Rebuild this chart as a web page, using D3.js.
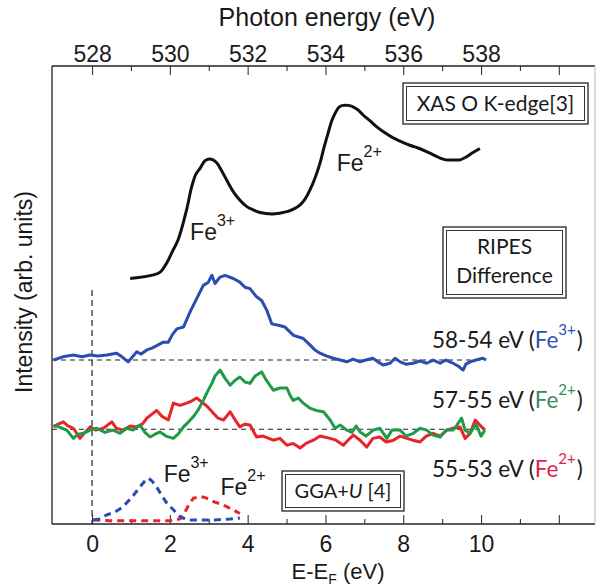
<!DOCTYPE html>
<html>
<head>
<meta charset="utf-8">
<script src="https://cdn.jsdelivr.net/npm/d3@7"></script>
<style>
  body { margin: 0; background: #fff; }
  svg text { fill: #1a1a1a; }
</style>
</head>
<body>
<svg id="chart" width="597" height="588"></svg>
<script>
// ---- XAS O K-edge spectrum (photon energy, eV) ----
const xasEnergy = [528.98, 529.58, 529.75, 529.92, 530.06, 530.21, 530.43, 530.56, 530.67, 530.78,
  530.90, 531.01, 531.11, 531.21, 531.32, 531.46, 531.57, 531.72, 531.98, 532.14, 532.32, 532.65,
  533.01, 533.19, 533.35, 533.48, 533.60, 533.73, 533.86, 533.96, 534.07, 534.17, 534.25, 534.35,
  534.45, 534.58, 534.71, 534.84, 534.97, 535.15, 535.32, 535.53, 535.74, 535.92, 536.17, 536.38,
  536.60, 536.77, 536.95, 537.10, 537.28, 537.46, 537.63, 537.77, 537.97];
const xasIntensity = [5.36, 5.44, 5.50, 5.70, 5.94, 6.20, 6.86, 7.36, 7.64, 7.77,
  7.93, 7.97, 7.95, 7.88, 7.73, 7.51, 7.34, 7.15, 6.93, 6.86, 6.80, 6.77,
  6.82, 6.88, 6.97, 7.10, 7.29, 7.55, 7.88, 8.21, 8.54, 8.82, 8.97, 9.10,
  9.14, 9.14, 9.11, 9.04, 8.93, 8.80, 8.67, 8.54, 8.43, 8.36, 8.27, 8.21,
  8.13, 8.06, 7.99, 7.95, 7.95, 7.95, 8.02, 8.10, 8.20];

// ---- RIPES difference spectra (E - E_F, eV) ----
const fe3Offset = 3.58;   // 58-54 eV trace baseline
const fe2Offset = 2.07;   // 57-55 / 55-53 eV traces baseline

const fe3Energy = [-0.99, -0.75, -0.48, -0.26, -0.05, 0.15, 0.38, 0.63, 0.77, 0.93, 1.15, 1.26, 1.41,
  1.54, 1.70, 1.83, 1.96, 2.06, 2.18, 2.35, 2.52, 2.69, 2.86, 2.99, 3.08, 3.16, 3.29, 3.42, 3.63,
  3.80, 3.93, 4.06, 4.23, 4.36, 4.49, 4.62, 4.79, 4.96, 5.18, 5.43, 5.60, 5.73, 5.86, 6.02, 6.20,
  6.38, 6.55, 6.71, 6.89, 7.04, 7.22, 7.35, 7.48, 7.66, 7.79, 7.92, 8.07, 8.25, 8.43, 8.60, 8.77,
  8.95, 9.10, 9.28, 9.41, 9.54, 9.61, 9.72, 9.87, 10.05, 10.13];
const fe3Diff = [0.00, 0.07, 0.11, 0.07, 0.11, 0.09, 0.11, 0.15, 0.07, -0.04, 0.18, 0.13, 0.22,
  0.26, 0.33, 0.39, 0.39, 0.55, 0.68, 0.72, 1.05, 1.34, 1.63, 1.70, 1.85, 1.67, 1.81, 1.85, 1.78,
  1.70, 1.59, 1.56, 1.38, 1.30, 1.09, 0.79, 0.76, 0.72, 0.54, 0.47, 0.33, 0.22, 0.15, 0.09, 0.04,
  0.00, -0.04, 0.02, -0.04, 0.00, 0.04, -0.04, -0.11, -0.07, 0.04, -0.04, -0.09, -0.07, -0.02, -0.07, 0.00,
  -0.07, 0.00, -0.07, -0.13, -0.22, -0.09, -0.04, 0.00, 0.04, 0.00];

const fe2GreenEnergy = [-0.99, -0.82, -0.65, -0.48, -0.36, -0.22, -0.05, 0.12, 0.33, 0.54, 0.72, 0.89,
  1.05, 1.23, 1.36, 1.49, 1.62, 1.75, 1.90, 2.09, 2.21, 2.35, 2.47, 2.60, 2.72, 2.86, 2.96, 3.08,
  3.16, 3.29, 3.42, 3.55, 3.68, 3.80, 3.93, 4.06, 4.19, 4.36, 4.48, 4.66, 4.83, 5.01, 5.09, 5.17,
  5.30, 5.43, 5.60, 5.76, 5.95, 6.12, 6.25, 6.38, 6.55, 6.68, 6.79, 6.89, 7.04, 7.23, 7.40, 7.58,
  7.71, 7.92, 8.07, 8.26, 8.43, 8.60, 8.77, 8.95, 9.10, 9.28, 9.38, 9.50, 9.59, 9.72, 9.87, 10.00, 10.10];
const fe2GreenDiff = [0.09, 0.04, -0.02, -0.20, -0.11, -0.09, -0.02, 0.02, -0.07, -0.02, -0.09, 0.02,
  -0.02, 0.09, -0.07, -0.17, -0.11, -0.06, -0.15, -0.20, -0.11, 0.05, 0.15, 0.27, 0.41, 0.63, 0.81, 1.00,
  1.16, 1.29, 1.11, 0.96, 1.07, 1.14, 1.03, 1.00, 1.16, 1.25, 1.07, 0.85, 0.90, 0.90, 0.74, 0.63,
  0.68, 0.57, 0.46, 0.41, 0.38, 0.20, 0.02, 0.09, -0.02, -0.07, 0.07, -0.06, -0.15, -0.02, 0.02, -0.20,
  -0.02, -0.02, -0.15, -0.09, 0.02, -0.02, -0.13, -0.17, -0.02, -0.02, 0.09, 0.24, -0.02, -0.09, 0.11, -0.15, -0.02];

const fe2RedEnergy = [-0.99, -0.87, -0.74, -0.62, -0.48, -0.31, -0.18, -0.05, 0.10, 0.29, 0.51, 0.62,
  0.80, 0.98, 1.15, 1.29, 1.41, 1.54, 1.66, 1.80, 1.96, 2.09, 2.26, 2.43, 2.55, 2.69, 2.86, 2.98,
  3.12, 3.24, 3.38, 3.55, 3.68, 3.80, 3.93, 4.06, 4.23, 4.40, 4.66, 4.83, 5.01, 5.17, 5.35, 5.50,
  5.69, 5.86, 6.12, 6.27, 6.46, 6.58, 6.72, 6.89, 7.06, 7.22, 7.40, 7.56, 7.75, 7.92, 8.09, 8.25,
  8.43, 8.59, 8.77, 8.95, 9.12, 9.28, 9.46, 9.59, 9.72, 9.85, 9.97, 10.10];
const fe2RedDiff = [0.05, 0.11, 0.16, 0.07, 0.02, -0.20, -0.07, 0.05, -0.02, 0.02, 0.16, 0.02,
  -0.02, 0.07, 0.05, 0.11, 0.24, 0.33, 0.41, 0.28, 0.20, 0.57, 0.52, 0.57, 0.61, 0.68, 0.57, 0.48,
  0.35, 0.24, 0.20, 0.38, 0.20, 0.05, 0.11, 0.09, -0.17, -0.15, -0.24, -0.20, -0.35, -0.31, -0.41, -0.31,
  -0.24, -0.15, -0.20, -0.24, -0.35, -0.24, -0.13, -0.24, -0.39, -0.20, -0.17, -0.28, -0.24, -0.15, -0.20, -0.24,
  -0.28, -0.15, -0.09, -0.15, -0.02, 0.02, 0.05, -0.20, -0.09, 0.20, 0.09, -0.02];

// ---- GGA+U projected densities of states ----
const ggaFe3Energy = [0.03, 0.21, 0.38, 0.59, 0.80, 1.03, 1.23, 1.36, 1.45, 1.54, 1.66, 1.80, 1.92,
  2.09, 2.26, 2.39, 2.52, 2.78, 3.16, 3.55, 3.80];
const ggaFe3Dos = [0.09, 0.11, 0.20, 0.26, 0.38, 0.59, 0.81, 0.94, 1.00, 0.94, 0.81, 0.61, 0.46,
  0.31, 0.16, 0.11, 0.09, 0.09, 0.09, 0.11, 0.13];
const ggaFe2Energy = [0.03, 0.46, 0.98, 1.49, 2.01, 2.26, 2.35, 2.47, 2.60, 2.78, 2.93, 3.12, 3.29,
  3.46, 3.62, 3.80];
const ggaFe2Dos = [0.09, 0.07, 0.07, 0.07, 0.07, 0.11, 0.20, 0.39, 0.56, 0.60, 0.57, 0.49, 0.44,
  0.38, 0.31, 0.23];

// ---- axis ticks ----
const photonMajor = [528, 530, 532, 534, 536, 538, 540];
const photonMinor = [529, 531, 533, 535, 537, 539, 541];
const eMajor = [0, 2, 4, 6, 8, 10, 12];
const eMinor = [1, 3, 5, 7, 9, 11];

const colors = { xas: "#111111", fe3: "#2b4cb0", fe2g: "#1f9a48", fe2r: "#e8242b",
  labelBlue: "#2f4fb8", labelGreen: "#3a8a5a", labelRed: "#e2204a" };

const svg = d3.select("#chart");
const plotLeft = 52, plotRight = 595, plotTop = 66, plotBottom = 524;

const x = d3.scaleLinear().domain([-1.03, 12.93]).range([plotLeft, plotRight]);
const xTop = d3.scaleLinear().domain([528 - 1.03, 528 + 12.93]).range([plotLeft, plotRight]);
const y = d3.scaleLinear().domain([0, 10]).range([plotBottom, plotTop]);

const tickFont = "'Liberation Sans', Arial, Helvetica, sans-serif";
const boxFont = "Lato, 'Open Sans', sans-serif";

// frame
svg.append("line").attr("x1", plotLeft).attr("x2", plotRight).attr("y1", plotTop).attr("y2", plotTop)
  .attr("stroke", "#222").attr("stroke-width", 1.3);
svg.append("line").attr("x1", plotLeft).attr("x2", plotRight).attr("y1", plotBottom).attr("y2", plotBottom)
  .attr("stroke", "#222").attr("stroke-width", 1.3);
svg.append("line").attr("x1", plotLeft).attr("x2", plotLeft).attr("y1", plotTop).attr("y2", plotBottom)
  .attr("stroke", "#222").attr("stroke-width", 1.3);
svg.append("line").attr("x1", plotRight).attr("x2", plotRight).attr("y1", plotTop).attr("y2", plotBottom)
  .attr("stroke", "#bbb").attr("stroke-width", 1);

// top axis (photon energy)
svg.append("g").attr("transform", `translate(0,${plotTop})`)
  .call(d3.axisTop(xTop).tickValues(photonMajor).tickSizeInner(-9).tickSizeOuter(0).tickPadding(4)
    .tickFormat(d => d <= 538 ? d : ""));
svg.append("g").attr("transform", `translate(0,${plotTop})`)
  .call(d3.axisTop(xTop).tickValues(photonMinor).tickSizeInner(-5).tickSizeOuter(0).tickFormat(""));

// bottom axis (E - E_F)
svg.append("g").attr("transform", `translate(0,${plotBottom})`)
  .call(d3.axisBottom(x).tickValues(eMajor).tickSizeInner(-9).tickSizeOuter(0).tickPadding(12)
    .tickFormat(d => d <= 10 ? d : ""));
svg.append("g").attr("transform", `translate(0,${plotBottom})`)
  .call(d3.axisBottom(x).tickValues(eMinor).tickSizeInner(-5).tickSizeOuter(0).tickFormat(""));

svg.selectAll(".domain").remove();
svg.selectAll(".tick line").attr("stroke", "#333").attr("stroke-width", 1.1);
svg.selectAll(".tick text").attr("font-family", tickFont).attr("font-size", 23).attr("fill", "#1a1a1a");

// axis titles
svg.append("text").attr("x", 327).attr("y", 26).attr("text-anchor", "middle")
  .attr("font-family", tickFont).attr("font-size", 25).text("Photon energy (eV)");

const xt = svg.append("text").attr("x", 338).attr("y", 579).attr("text-anchor", "middle")
  .attr("font-family", tickFont).attr("font-size", 22);
xt.append("tspan").text("E-E");
xt.append("tspan").attr("font-size", 14).attr("dy", 5).text("F");
xt.append("tspan").attr("dy", -5).text(" (eV)");

svg.append("text").attr("transform", `translate(32,${(plotTop + plotBottom) / 2 - 3}) rotate(-90)`)
  .attr("text-anchor", "middle").attr("font-family", tickFont).attr("font-size", 23)
  .text("Intensity (arb. units)");

// reference lines: Fermi level and difference baselines
svg.append("line").attr("x1", x(0)).attr("x2", x(0)).attr("y1", 290).attr("y2", plotBottom)
  .attr("stroke", "#222").attr("stroke-width", 1.2).attr("stroke-dasharray", "6,4");
[fe3Offset, fe2Offset].forEach(o => {
  svg.append("line").attr("x1", plotLeft).attr("x2", x(10.1)).attr("y1", y(o)).attr("y2", y(o))
    .attr("stroke", "#222").attr("stroke-width", 1.1).attr("stroke-dasharray", "5,4");
});

const line = d3.line().x(d => x(d[0])).y(d => y(d[1]));
const zip = (a, b, off = 0) => a.map((e, i) => [e, b[i] + off]);

// XAS on photon-energy axis
const xasLine = d3.line().x(d => xTop(d[0])).y(d => y(d[1])).curve(d3.curveCatmullRom.alpha(0.5));
svg.append("path").datum(zip(xasEnergy, xasIntensity)).attr("d", xasLine)
  .attr("fill", "none").attr("stroke", colors.xas).attr("stroke-width", 3).attr("stroke-linejoin", "round");

// GGA+U DOS (dashed)
svg.append("path").datum(zip(ggaFe2Energy, ggaFe2Dos)).attr("d", line)
  .attr("fill", "none").attr("stroke", colors.fe2r).attr("stroke-width", 3).attr("stroke-dasharray", "7,5");
svg.append("path").datum(zip(ggaFe3Energy, ggaFe3Dos)).attr("d", line)
  .attr("fill", "none").attr("stroke", colors.fe3).attr("stroke-width", 3).attr("stroke-dasharray", "7,5");

// RIPES difference traces
svg.append("path").datum(zip(fe3Energy, fe3Diff, fe3Offset)).attr("d", line)
  .attr("fill", "none").attr("stroke", colors.fe3).attr("stroke-width", 3).attr("stroke-linejoin", "round");
svg.append("path").datum(zip(fe2RedEnergy, fe2RedDiff, fe2Offset)).attr("d", line)
  .attr("fill", "none").attr("stroke", colors.fe2r).attr("stroke-width", 3).attr("stroke-linejoin", "round");
svg.append("path").datum(zip(fe2GreenEnergy, fe2GreenDiff, fe2Offset)).attr("d", line)
  .attr("fill", "none").attr("stroke", colors.fe2g).attr("stroke-width", 3).attr("stroke-linejoin", "round");

// Fe valence labels next to peaks
function feLabel(px, py, charge, size, supSize) {
  const t = svg.append("text").attr("x", px).attr("y", py).attr("font-family", tickFont).attr("font-size", size);
  t.append("tspan").text("Fe");
  t.append("tspan").attr("font-size", supSize).attr("dy", -size * 0.6).text(charge);
}
feLabel(xTop(530.52), 240, "3+", 23, 16);
feLabel(xTop(534.29), 171, "2+", 23, 16);
feLabel(x(1.84), 482, "3+", 23, 16);
feLabel(x(3.3), 495, "2+", 23, 16);

// double-bordered label boxes
function box(x0, y0, w, h) {
  svg.append("rect").attr("x", x0).attr("y", y0).attr("width", w).attr("height", h)
    .attr("fill", "#fff").attr("stroke", "#333").attr("stroke-width", 1.4);
  svg.append("rect").attr("x", x0 + 3.5).attr("y", y0 + 3.5).attr("width", w - 7).attr("height", h - 7)
    .attr("fill", "none").attr("stroke", "#333").attr("stroke-width", 1);
}
box(403, 83, 185, 41);
svg.append("text").attr("x", 495.5).attr("y", 111).attr("text-anchor", "middle")
  .attr("font-family", boxFont).attr("font-size", 21).text("XAS O K-edge[3]");

box(443, 227, 123, 71);
svg.append("text").attr("x", 504.5).attr("y", 254).attr("text-anchor", "middle")
  .attr("font-family", boxFont).attr("font-size", 21).text("RIPES");
svg.append("text").attr("x", 504.5).attr("y", 283).attr("text-anchor", "middle")
  .attr("font-family", boxFont).attr("font-size", 21).text("Difference");

box(282, 471, 122, 40);
const gga = svg.append("text").attr("x", 343).attr("y", 498).attr("text-anchor", "middle")
  .attr("font-family", boxFont).attr("font-size", 20);
gga.append("tspan").text("GGA+");
gga.append("tspan").attr("font-style", "italic").text("U");
gga.append("tspan").text(" [4]");

// trace legends on the right
function traceLabel(py, range, charge, color) {
  const t = svg.append("text").attr("x", 432).attr("y", py).attr("font-family", boxFont).attr("font-size", 22.5);
  t.append("tspan").text(range + " eV (");
  t.append("tspan").attr("fill", color).text("Fe");
  t.append("tspan").attr("dy", -13).attr("fill", color).attr("font-size", 15).text(charge);
  t.append("tspan").attr("dy", 13).attr("dx", 1).text(")");
}
traceLabel(348, "58-54", "3+", colors.labelBlue);
traceLabel(408, "57-55", "2+", colors.labelGreen);
traceLabel(477, "55-53", "2+", colors.labelRed);
</script>
</body>
</html>
